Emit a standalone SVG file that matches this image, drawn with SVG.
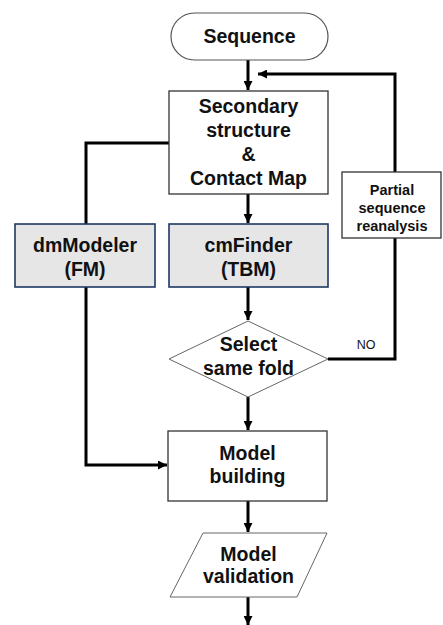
<svg xmlns="http://www.w3.org/2000/svg" width="443" height="625" viewBox="0 0 443 625">
<defs>
<style>
.t{font-family:"Liberation Sans",Arial,sans-serif;font-weight:bold;font-size:19.5px;fill:#111;text-anchor:middle}
.s{font-family:"Liberation Sans",Arial,sans-serif;font-weight:bold;font-size:14.5px;fill:#111;text-anchor:middle}
.n{font-family:"Liberation Sans",Arial,sans-serif;font-size:12.5px;fill:#111;text-anchor:middle}
.box{fill:#fff;stroke:#333;stroke-width:1.3}
.blue{fill:#e7e6e6;stroke:#1f3864;stroke-width:1.6}
.thin{fill:#fff;stroke:#666;stroke-width:1}
.c{fill:none;stroke:#000;stroke-width:3}
</style>
<marker id="ah" viewBox="0 0 10 10" refX="10" refY="5" markerWidth="3" markerHeight="3" orient="auto" markerUnits="strokeWidth">
<path d="M0,0 L10,5 L0,10 Z" fill="#000"/>
</marker>
</defs>
<g id="connectors">
<path class="c" d="M248,60 V90" marker-end="url(#ah)"/>
<path class="c" d="M248,194 V223" marker-end="url(#ah)"/>
<path class="c" d="M248,287 V320" marker-end="url(#ah)"/>
<path class="c" d="M248,397 V430" marker-end="url(#ah)"/>
<path class="c" d="M248,501 V532" marker-end="url(#ah)"/>
<path class="c" d="M248,597 V625" marker-end="url(#ah)"/>
<path class="c" d="M169,143 H86 V224"/>
<path class="c" d="M86,287 V465 H167" marker-end="url(#ah)"/>
<path class="c" d="M328,359 H395 V74 H258" marker-end="url(#ah)"/>
</g>
<g id="sequence">
<rect class="thin" x="171" y="13" width="157" height="47" rx="23.5" ry="23.5" style="stroke:#555;stroke-width:1.2"/>
<text class="t" x="249.5" y="43">Sequence</text>
</g>
<g id="secondary">
<rect class="box" x="169" y="91" width="159" height="103"/>
<text class="t" x="248.5" y="113">Secondary</text>
<text class="t" x="248.5" y="137">structure</text>
<text class="t" x="248.5" y="161">&amp;</text>
<text class="t" x="248.5" y="185">Contact Map</text>
</g>
<g id="dmModeler">
<rect class="blue" x="15" y="224" width="140" height="63"/>
<text class="t" x="85" y="252">dmModeler</text>
<text class="t" x="85" y="276">(FM)</text>
</g>
<g id="cmFinder">
<rect class="blue" x="169" y="224" width="159" height="63"/>
<text class="t" x="248.5" y="252">cmFinder</text>
<text class="t" x="248.5" y="276">(TBM)</text>
</g>
<g id="partial">
<rect class="box" x="342" y="172" width="99" height="66"/>
<text class="s" x="392" y="195">Partial</text>
<text class="s" x="392" y="213">sequence</text>
<text class="s" x="392" y="231">reanalysis</text>
</g>
<g id="select">
<polygon class="thin" points="248,321 328,359 248,397 169,359"/>
<text class="t" x="248.5" y="351">Select</text>
<text class="t" x="248.5" y="375">same fold</text>
</g>
<text class="n" x="366" y="349">NO</text>
<g id="building">
<rect class="box" x="168" y="431" width="159" height="70"/>
<text class="t" x="247.5" y="460">Model</text>
<text class="t" x="247.5" y="483">building</text>
</g>
<g id="validation">
<polygon class="thin" points="203,533 327,533 297,597 170,597"/>
<text class="t" x="248.5" y="561">Model</text>
<text class="t" x="248.5" y="583">validation</text>
</g>
</svg>
